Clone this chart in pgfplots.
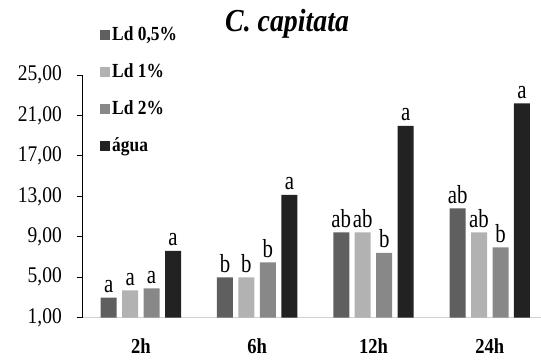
\documentclass[border=0pt]{standalone}
\usepackage{pgfplots}
\pgfplotsset{compat=1.18}
\usepackage{fontspec}
\setmainfont{Liberation Serif}[FakeStretch=0.87]
\newfontfamily\lblfont{Liberation Serif}[FakeStretch=0.8]
\definecolor{cA}{HTML}{5F5F5F}
\definecolor{cB}{HTML}{B2B2B2}
\definecolor{cC}{HTML}{888888}
\definecolor{cD}{HTML}{222222}
\begin{document}
\begin{tikzpicture}
\begin{axis}[
  at={(0,0)}, anchor=south west,
  scale only axis, width=343.7pt, height=182pt,
  xmin=-0.5, xmax=3.44, ymin=1, ymax=25,
  enlargelimits=false, clip=false,
  ybar=4.1pt, bar width=12pt,
  axis x line*=bottom, axis y line*=left,
  x axis line style={draw=black!18, line width=1pt},
  y axis line style={draw=black, line width=0.8pt},
  xtick=data, xticklabels={2h,6h,12h,24h},
  xtick style={draw=none},
  ytick={1,5,9,13,17,21,25},
  ytick style={draw=black, line width=0.8pt},
  tick align=outside, major tick length=4.5pt,
  /pgf/number format/.cd, fixed, fixed zerofill, precision=2, use comma, assume math mode=true,
  /pgfplots/.cd,
  yticklabel style={font=\fontsize{16.8}{19}\selectfont, inner sep=0pt, xshift=-11pt},
  xticklabel style={font=\bfseries\fontsize{16}{18}\selectfont, inner sep=0pt, yshift=-11pt},
  nodes near coords,
  point meta=explicit symbolic,
  every node near coord/.append style={font=\lblfont\fontsize{19.5}{22}\selectfont, inner sep=0pt, yshift=3.5pt, black},
  legend image code/.code={\fill[#1] (0pt,-3.6pt) rectangle (7.5pt,3.6pt);},
  legend cell align=left,
  legend style={draw=none, fill=none, at={(0.0377,1.21)}, anchor=north west,
    font=\bfseries\fontsize{15}{18}\selectfont, row sep=11.8pt, inner sep=0pt,
    nodes={inner sep=1.5pt, text height=10.5pt, text depth=2.5pt}},
]
\addplot[fill=cA, draw=none] table[meta=l] {
x y l
0 2.98 a
1 5.00 b
2 9.45 ab
3 11.82 ab
};
\addplot[fill=cB, draw=none] table[meta=l] {
x y l
0 3.71 a
1 5.00 b
2 9.45 ab
3 9.45 ab
};
\addplot[fill=cC, draw=none] table[meta=l] {
x y l
0 3.91 a
1 6.48 b
2 7.40 b
3 7.96 b
};
\addplot[fill=cD, draw=none] table[meta=l] {
x y l
0 7.60 a
1 13.14 a
2 19.96 a
3 22.20 a
};
\legend{{Ld 0,5\%}, {Ld 1\%}, {Ld 2\%}, {água}}
\node[font=\bfseries\itshape\fontsize{24}{28}\selectfont] at (axis description cs:0.446,1.21) {C. capitata};
\end{axis}
\pgfresetboundingbox
\useasboundingbox (-62.03pt,-32.48pt) rectangle (343.73pt,238.28pt);
\end{tikzpicture}
\end{document}
